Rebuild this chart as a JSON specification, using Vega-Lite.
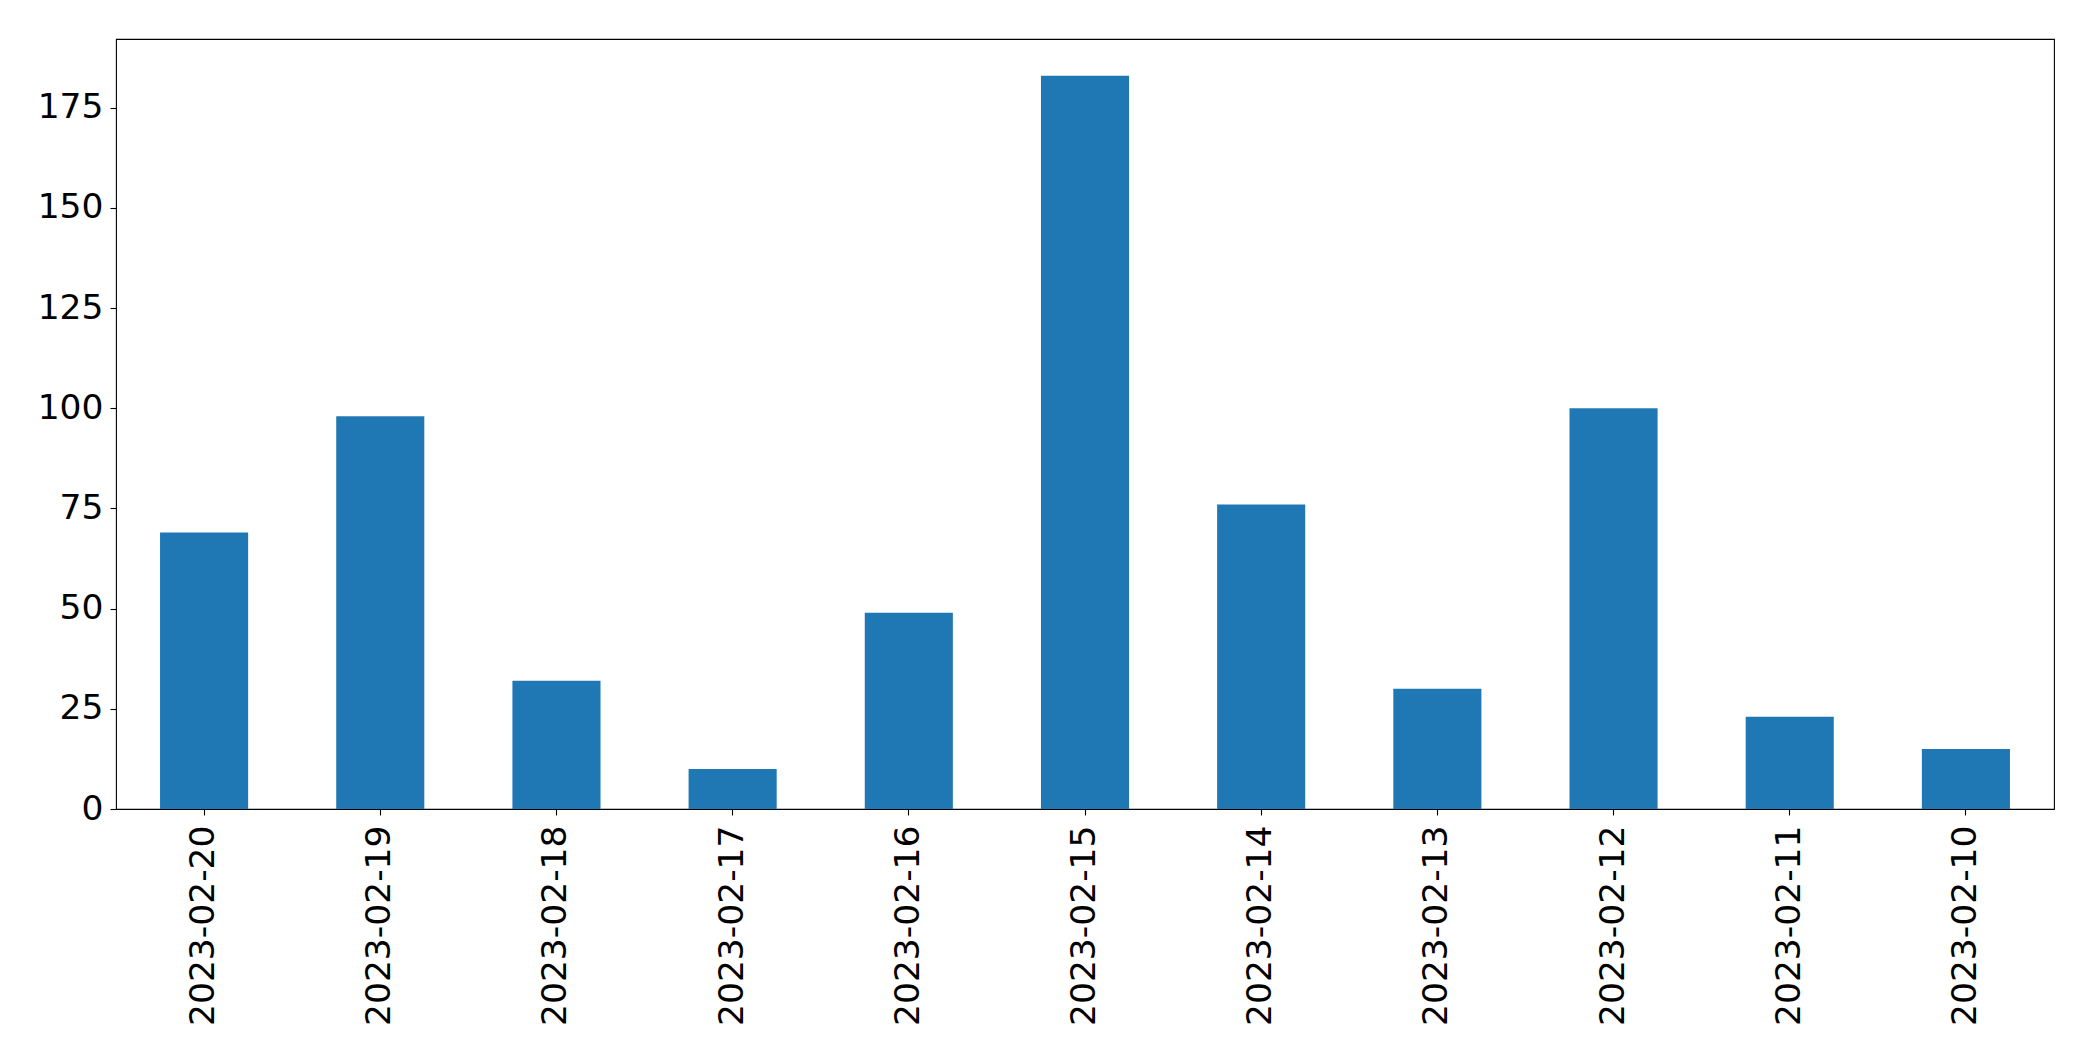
{
  "$schema": "https://vega.github.io/schema/vega-lite/v6.json",
  "width": 1938,
  "height": 770,
  "autosize": {"type": "none"},
  "padding": {"left": 116, "top": 39, "right": 39, "bottom": 252},
  "background": "white",
  "config": {
    "view": {"stroke": "black", "strokeWidth": 1.1},
    "font": "DejaVu Sans"
  },
  "data": {
    "values": [
      {"date": "2023-02-20", "count": 69},
      {"date": "2023-02-19", "count": 98},
      {"date": "2023-02-18", "count": 32},
      {"date": "2023-02-17", "count": 10},
      {"date": "2023-02-16", "count": 49},
      {"date": "2023-02-15", "count": 183},
      {"date": "2023-02-14", "count": 76},
      {"date": "2023-02-13", "count": 30},
      {"date": "2023-02-12", "count": 100},
      {"date": "2023-02-11", "count": 23},
      {"date": "2023-02-10", "count": 15}
    ]
  },
  "mark": {"type": "bar", "color": "#1f77b4"},
  "encoding": {
    "x": {
      "field": "date",
      "type": "nominal",
      "sort": null,
      "scale": {"paddingInner": 0.5, "paddingOuter": 0.25},
      "axis": {
        "title": null,
        "labelAngle": -90,
        "labelLimit": 0,
        "labelFont": "DejaVu Sans",
        "labelFontSize": 34.5,
        "labelColor": "black",
        "labelPadding": 10,
        "tickColor": "black",
        "tickSize": 6,
        "tickWidth": 1.1,
        "domain": false,
        "grid": false
      }
    },
    "y": {
      "field": "count",
      "type": "quantitative",
      "scale": {"domain": [0, 192.15], "nice": false, "zero": true},
      "axis": {
        "title": null,
        "values": [0, 25, 50, 75, 100, 125, 150, 175],
        "labelFont": "DejaVu Sans",
        "labelFontSize": 34.5,
        "labelColor": "black",
        "labelPadding": 7,
        "tickColor": "black",
        "tickSize": 6,
        "tickWidth": 1.1,
        "domain": false,
        "grid": false
      }
    }
  }
}
